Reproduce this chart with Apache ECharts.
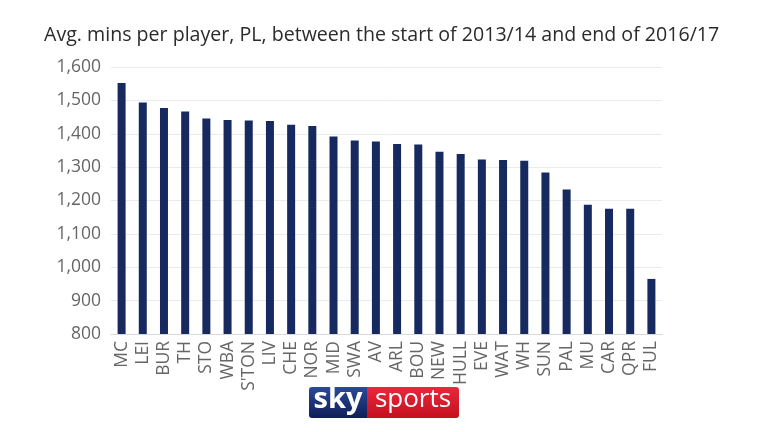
<!DOCTYPE html>
<html><head><meta charset="utf-8">
<script src="https://cdn.jsdelivr.net/npm/echarts@6/dist/echarts.min.js"></script>
<style>html,body{margin:0;padding:0;background:#fff}#c{width:768px;height:432px}</style>
</head><body><div id="c"></div>
<script>
var titleText = "Avg. mins per player, PL, between the start of 2013/14 and end of 2016/17";
var categories = ["MC","LEI","BUR","TH","STO","WBA","S'TON","LIV","CHE","NOR","MID","SWA","AV","ARL","BOU","NEW","HULL","EVE","WAT","WH","SUN","PAL","MU","CAR","QPR","FUL"];
var values = [1552,1494,1477,1467,1446,1441,1440,1438,1427,1423,1392,1380,1377,1369,1368,1346,1339,1323,1321,1319,1284,1233,1187,1175,1175,965];
var yMin = 800, yMax = 1600, yStep = 100;

var chart = echarts.init(document.getElementById('c'), null, {renderer:'canvas'});
chart.setOption({
  animation:false,
  backgroundColor:'#fff',
  title:{text:titleText,left:39,top:20,textStyle:{fontFamily:'Open Sans',fontSize:19.6,fontWeight:'normal',color:'#2b2b2b'}},
  grid:{left:111,top:67,width:551,height:267},
  xAxis:{type:'category',data:categories,
    axisLine:{lineStyle:{color:'#d9d9d9'}},axisTick:{show:false},
    axisLabel:{rotate:90,interval:0,fontFamily:'Open Sans',fontSize:17.5,color:'#666',margin:7}},
  yAxis:{type:'value',min:yMin,max:yMax,interval:yStep,
    axisLine:{show:false},axisTick:{show:false},
    splitLine:{lineStyle:{color:'#ebebeb'}},
    axisLabel:{fontFamily:'Open Sans',fontSize:17.5,color:'#666',margin:10,
      formatter:function(v){return v.toLocaleString('en-US');}}},
  series:[{type:'bar',data:values,barWidth:8,itemStyle:{color:'#172a60'}}],
  graphic:[
    {type:'rect',shape:{x:309,y:387,width:58,height:31,r:[3,0,0,3]},style:{fill:new echarts.graphic.LinearGradient(0,0,0,1,[{offset:0,color:'#2a4a9a'},{offset:1,color:'#101f56'}])}},
    {type:'rect',shape:{x:367,y:387,width:92,height:31,r:[0,3,3,0]},style:{fill:new echarts.graphic.LinearGradient(0,0,0,1,[{offset:0,color:'#e8283c'},{offset:1,color:'#c4101f'}])}},
    {type:'text',style:{x:338,y:400,text:'sky',fill:'#fff',font:'bold 29px "Open Sans"',textAlign:'center',textVerticalAlign:'middle'}},
    {type:'text',style:{x:413,y:400,text:'sports',fill:'#fff',font:'26px "Open Sans"',textAlign:'center',textVerticalAlign:'middle'}}
  ]
});
</script></body></html>
